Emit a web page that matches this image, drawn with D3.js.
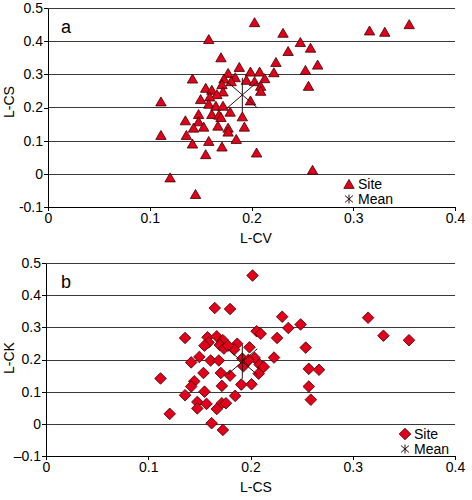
<!DOCTYPE html>
<html lang="en">
<head>
<meta charset="UTF-8"/>
<title>L-moment ratio diagrams</title>
<script src="https://d3js.org/d3.v7.min.js"></script>
<style>
    body { margin: 0; background: #fff; }
    svg text { font-family: "Liberation Sans", Arial, sans-serif; fill: #000; }
    .axis path, .axis line { stroke: #000; shape-rendering: crispEdges; }
    .axis text { font-size: 14px; }
    .grid-line { stroke: #3a3a3a; shape-rendering: crispEdges; }
    .site { fill: #e2001a; stroke: #3a0000; stroke-width: 0.8; }
    .mean { fill: none; stroke: #2a1010; stroke-width: 1; }
</style>
</head>
<body>
<script>
// tick values and labels
const xTicks = [0, 0.1, 0.2, 0.3, 0.4];
const xTickLabels = ["0", "0.1", "0.2", "0.3", "0.4"];
const yTicks = [-0.1, 0, 0.1, 0.2, 0.3, 0.4, 0.5];
const yTickLabelsA = ["-0.1", "0", "0.1", "0.2", "0.3", "0.4", "0.5"];
const yTickLabelsB = ["\u20130.1", "0", "0.1", "0.2", "0.3", "0.4", "0.5"];

// panel a: L-CV vs L-CS (one value per site)
const cvA = [0.203, 0.231, 0.158, 0.248, 0.258, 0.236, 0.170, 0.224, 0.265, 0.188,
             0.253, 0.177, 0.199, 0.208, 0.222, 0.142, 0.173, 0.184, 0.195, 0.203,
             0.213, 0.180, 0.171, 0.209, 0.256, 0.209, 0.155, 0.161, 0.172, 0.166,
             0.159, 0.150, 0.199, 0.158, 0.165, 0.172, 0.179, 0.148, 0.161, 0.168,
             0.191, 0.170, 0.135, 0.148, 0.143, 0.153, 0.167, 0.193, 0.177, 0.177,
             0.136, 0.185, 0.142, 0.158, 0.171, 0.155, 0.205, 0.260, 0.145, 0.111,
             0.111, 0.120, 0.316, 0.331, 0.355];
const csA = [0.457, 0.425, 0.406, 0.397, 0.380, 0.370, 0.351, 0.337, 0.329, 0.322,
             0.313, 0.304, 0.308, 0.308, 0.306, 0.287, 0.287, 0.291, 0.283, 0.279,
             0.288, 0.279, 0.270, 0.265, 0.265, 0.250, 0.259, 0.253, 0.248, 0.240,
             0.233, 0.225, 0.221, 0.211, 0.205, 0.205, 0.187, 0.180, 0.180, 0.178,
             0.173, 0.171, 0.161, 0.158, 0.139, 0.142, 0.145, 0.142, 0.139, 0.127,
             0.117, 0.105, 0.091, 0.099, 0.082, 0.059, 0.064, 0.012, -0.061, 0.218,
             0.117, -0.011, 0.432, 0.428, 0.451];
const meanA = [0.191, 0.238];

// panel b: L-CS vs L-CK
const csB = [0.202, 0.165, 0.180, 0.231, 0.136, 0.158, 0.167, 0.206, 0.210, 0.226,
             0.173, 0.187, 0.159, 0.155, 0.170, 0.174, 0.184, 0.199, 0.150, 0.223,
             0.192, 0.204, 0.142, 0.161, 0.169, 0.196, 0.209, 0.213, 0.193, 0.154,
             0.171, 0.180, 0.208, 0.112, 0.145, 0.142, 0.172, 0.191, 0.201, 0.155,
             0.136, 0.185, 0.148, 0.157, 0.172, 0.176, 0.148, 0.167, 0.121, 0.162,
             0.173, 0.237, 0.249, 0.254, 0.257, 0.267, 0.257, 0.259, 0.315, 0.330,
             0.355, 0.178, 0.198];
const ckB = [0.461, 0.360, 0.357, 0.333, 0.267, 0.269, 0.272, 0.288, 0.280, 0.267,
             0.260, 0.249, 0.253, 0.243, 0.245, 0.234, 0.231, 0.238, 0.208, 0.206,
             0.203, 0.205, 0.191, 0.197, 0.197, 0.191, 0.184, 0.177, 0.179, 0.158,
             0.158, 0.150, 0.156, 0.141, 0.132, 0.116, 0.118, 0.122, 0.123, 0.100,
             0.089, 0.087, 0.068, 0.062, 0.064, 0.064, 0.048, 0.046, 0.031, 0.002,
             -0.019, 0.298, 0.309, 0.237, 0.171, 0.168, 0.116, 0.075, 0.330, 0.274,
             0.260, 0.243, 0.199];
const meanB = [0.192, 0.193];

const legendLabels = ["Site", "Mean"];

const width = 472, height = 500;

let svg = d3.select("body").append("svg")
    .attr("width", width)
    .attr("height", height);

// marker shapes (centred on the point)
const triangle = "M0,-4.6L5.2,4.4L-5.2,4.4Z";
const diamond = "M0,-5.8L5.8,0L0,5.8L-5.8,0Z";
function star(r) {
    return "M0," + (-r) + "L0," + r +
        "M" + (-r * 0.88) + "," + (-r * 0.76) + "L" + (r * 0.88) + "," + (r * 0.76) +
        "M" + (-r * 0.88) + "," + (r * 0.76) + "L" + (r * 0.88) + "," + (-r * 0.76);
}

const panels = [
    {letter: "a", xs: cvA, ys: csA, mean: meanA, marker: triangle,
     xRange: [48, 455], yRange: [207, 8], yLabels: yTickLabelsA,
     xTitle: "L-CV", yTitle: "L-CS", yTitleY: 102, legend: [349, 184]},
    {letter: "b", xs: csB, ys: ckB, mean: meanB, marker: diamond,
     xRange: [46, 455], yRange: [456, 263], yLabels: yTickLabelsB,
     xTitle: "L-CS", yTitle: "L-CK", yTitleY: 358, legend: [405, 434]}
];

panels.forEach(function(p) {
    let x = d3.scaleLinear().domain([0, 0.4]).range(p.xRange);
    let y = d3.scaleLinear().domain([-0.1, 0.5]).range(p.yRange);
    let g = svg.append("g");

    // horizontal grid lines
    g.selectAll(".grid-line")
        .data(yTicks.filter(v => v > -0.1))
        .enter().append("line")
        .attr("class", "grid-line")
        .attr("x1", p.xRange[0]).attr("x2", p.xRange[1])
        .attr("y1", d => Math.round(y(d)) + 0.5)
        .attr("y2", d => Math.round(y(d)) + 0.5);

    // axes
    g.append("g")
        .attr("class", "axis")
        .attr("transform", "translate(0," + Math.round(y(-0.1)) + ")")
        .call(d3.axisBottom(x).tickValues(xTicks)
            .tickFormat((d, i) => xTickLabels[i])
            .tickSize(4).tickSizeOuter(0).tickPadding(2));

    g.append("g")
        .attr("class", "axis")
        .attr("transform", "translate(" + p.xRange[0] + ",0)")
        .call(d3.axisLeft(y).tickValues(yTicks)
            .tickFormat((d, i) => p.yLabels[i])
            .tickSize(4).tickSizeOuter(0).tickPadding(1));

    // axis titles
    g.append("text")
        .attr("x", 256).attr("y", y(-0.1) + 36)
        .attr("text-anchor", "middle")
        .style("font-size", "14px")
        .text(p.xTitle);

    g.append("text")
        .attr("transform", "translate(14," + p.yTitleY + ") rotate(-90)")
        .attr("text-anchor", "middle")
        .style("font-size", "14px")
        .text(p.yTitle);

    // panel letter
    g.append("text")
        .attr("x", 61).attr("y", y(0.5) + 25)
        .style("font-size", "18px")
        .text(p.letter);

    // site markers
    g.selectAll(".site")
        .data(p.xs.map((v, i) => [v, p.ys[i]]))
        .enter().append("path")
        .attr("class", "site")
        .attr("d", p.marker)
        .attr("transform", d => "translate(" + x(d[0]) + "," + y(d[1]) + ")");

    // regional mean
    g.append("path")
        .attr("class", "mean")
        .attr("d", star(17))
        .attr("transform", "translate(" + x(p.mean[0]) + "," + y(p.mean[1]) + ")");

    // legend
    let lg = g.append("g").attr("transform", "translate(" + p.legend[0] + "," + p.legend[1] + ")");
    lg.append("path").attr("class", "site").attr("d", p.marker);
    lg.append("path").attr("class", "mean").attr("d", star(4.5))
        .attr("transform", "translate(0,15)");
    lg.selectAll("text")
        .data(legendLabels)
        .enter().append("text")
        .attr("x", 9)
        .attr("y", (d, i) => i * 15 + 5)
        .style("font-size", "14px")
        .text(d => d);
});
</script>
</body>
</html>
